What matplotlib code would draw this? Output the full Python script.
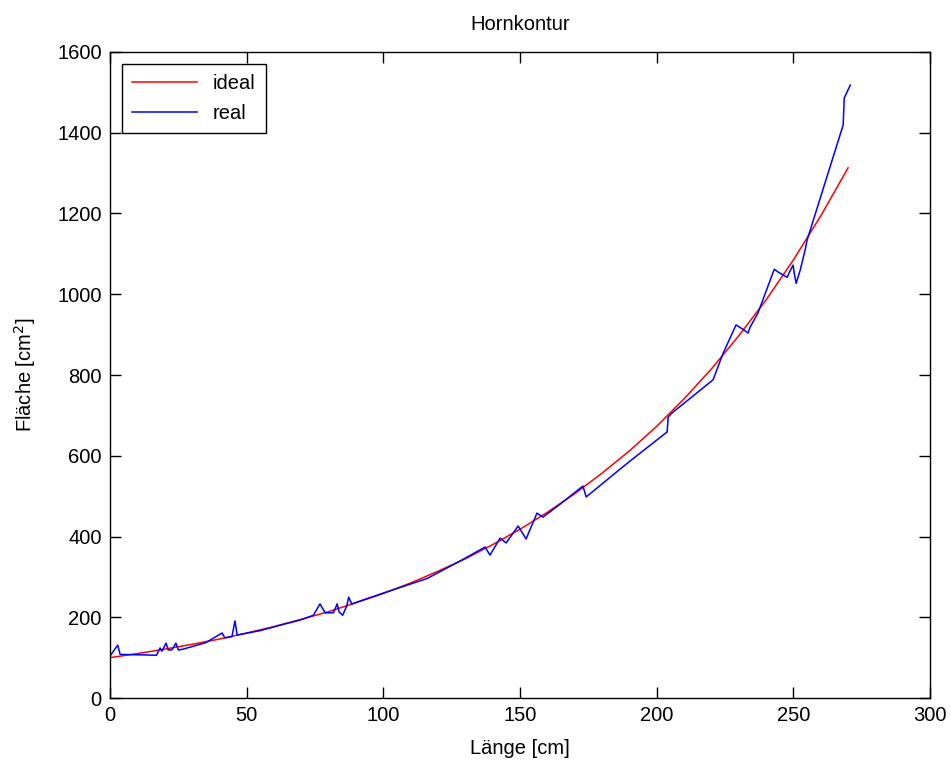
import matplotlib.pyplot as plt

plt.rcParams['font.family'] = ['Liberation Sans', 'DejaVu Sans']

# ideal horn contour
ideal_x = [0, 10, 20, 30, 40, 50, 60, 70, 80, 90, 100, 110, 120, 130, 140,
           150, 160, 170, 180, 190, 200, 210, 220, 230, 240, 250, 260, 270]
ideal_y = [100, 110, 121, 133, 146, 161, 177, 195, 214, 236, 259, 285, 314, 345, 380,
           418, 460, 506, 557, 612, 673, 741, 815, 897, 986, 1085, 1194, 1313]

# measured contour (blue curve)
real_x = [0, 2.8, 3.7, 17, 18.3, 19, 20.5, 21.3, 22.6, 24.1, 25, 26.7, 35, 41, 42,
          44.6, 45.7, 46.5, 55, 62, 69.5, 74.4, 76.8, 78.7, 81.7, 83.1, 83.8, 85.1,
          86.6, 87.3, 88.4, 100, 116, 128.8, 137.2, 139, 142.7, 144.9, 149.3, 152.2,
          156.2, 158.4, 165, 173, 174.2, 186.6, 191.2, 202.3, 203.8, 204.2, 205.6,
          220.6, 224.3, 229, 231.6, 233.4, 234.2, 237, 243, 244.4, 247.7, 248.8,
          249.9, 250.3, 251, 252.5, 254.3, 255, 268.2, 268.6, 270.8]
real_y = [104, 131, 108, 106, 124, 116, 136, 119, 119, 136, 119, 121, 137, 161, 149,
          152, 191, 156, 167, 180, 193, 205, 233, 211, 211, 233, 213, 205,
          228, 250, 233, 260, 296, 342, 374, 354, 396, 384, 426, 394,
          458, 448, 482, 525, 498, 567, 592, 651, 659, 696, 706,
          788, 854, 924, 913, 904, 919, 953, 1062, 1055, 1042, 1058,
          1072, 1052, 1027, 1060, 1110, 1134, 1419, 1486, 1518]

fig = plt.figure(figsize=(9.51, 7.69), dpi=100)
ax = fig.add_axes([0.1157, 0.0923, 0.8623, 0.8401])

ax.plot(ideal_x, ideal_y, color='red', lw=1.1, label='ideal')
ax.plot(real_x, real_y, color='blue', lw=1.1, label='real')

ax.set_xlim(0, 300)
ax.set_ylim(0, 1600)
ax.set_xticks(range(0, 301, 50))
ax.set_yticks(range(0, 1601, 200))
ax.tick_params(direction='in', top=True, right=True, labelsize=14.5, length=8, width=1, pad=6)
for s in ax.spines.values():
    s.set_linewidth(1)

ax.set_title('Hornkontur', fontsize=14.5, pad=16)
ax.set_xlabel('Länge [cm]', fontsize=14.5, labelpad=10)
ax.set_ylabel('Fläche [cm$^2$]', fontsize=14.5, labelpad=14)

leg = ax.legend(loc='upper left', fontsize=14.5, fancybox=False, edgecolor='black',
                framealpha=1, handlelength=3.2, borderaxespad=0.6, labelspacing=0.55,
                borderpad=0.5)
leg.get_frame().set_linewidth(1)

fig.savefig('out.png', dpi=100)
